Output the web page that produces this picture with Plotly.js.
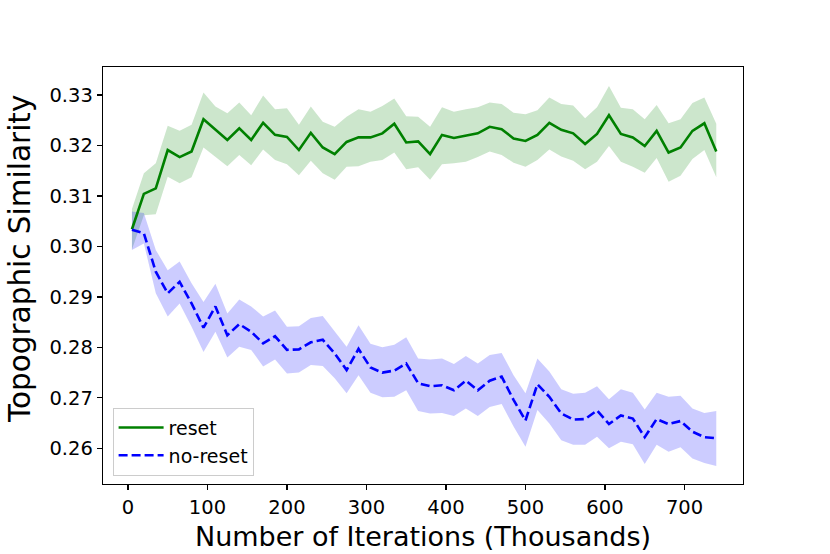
<!DOCTYPE html>
<html>
<head>
<meta charset="utf-8">
<script src="https://cdn.plot.ly/plotly-3.0.1.min.js"></script>
<style>html,body{margin:0;padding:0;background:#fff;}#chart{width:830px;height:554px;}</style>
</head>
<body>
<div id="chart"></div>
<script>
// iterations (thousands)
const iterations = [5,20,35,50,65,80,95,110,125,140,155,170,185,200,215,230,245,260,275,290,305,320,335,350,365,380,395,410,425,440,455,470,485,500,515,530,545,560,575,590,605,620,635,650,665,680,695,710,725,740];

const resetMean = [0.3034,0.3104,0.3115,0.3191,0.3177,0.3188,0.3252,0.3231,0.3211,0.3234,
  0.3211,0.3245,0.3221,0.3217,0.3191,0.3225,0.3196,0.3183,0.3207,0.3216,
  0.3216,0.3224,0.3243,0.3206,0.3208,0.3183,0.3221,0.3215,0.3220,0.3224,
  0.3237,0.3232,0.3214,0.3209,0.3221,0.3245,0.3231,0.3224,0.3203,0.3223,
  0.3260,0.3223,0.3216,0.3199,0.3229,0.3186,0.3196,0.3229,0.3244,0.3188];
const resetUpper = [0.3074,0.3145,0.3165,0.3239,0.3229,0.3241,0.3305,0.3277,0.3264,0.3285,
  0.3260,0.3299,0.3272,0.3274,0.3241,0.3277,0.3247,0.3237,0.3257,0.3272,
  0.3267,0.3278,0.3293,0.3258,0.3257,0.3237,0.3276,0.3267,0.3272,0.3276,
  0.3285,0.3282,0.3265,0.3262,0.3270,0.3295,0.3282,0.3279,0.3254,0.3276,
  0.3318,0.3275,0.3272,0.3252,0.3280,0.3244,0.3252,0.3284,0.3295,0.3243];
const resetLower = [0.2994,0.3062,0.3064,0.3138,0.3125,0.3137,0.3196,0.3178,0.3159,0.3181,
  0.3161,0.3192,0.3171,0.3163,0.3141,0.3170,0.3145,0.3132,0.3158,0.3159,
  0.3168,0.3171,0.3186,0.3153,0.3157,0.3132,0.3163,0.3165,0.3168,0.3177,
  0.3188,0.3181,0.3166,0.3158,0.3171,0.3192,0.3178,0.3170,0.3153,0.3168,
  0.3199,0.3168,0.3158,0.3146,0.3175,0.3128,0.3140,0.3173,0.3191,0.3137];

const noResetMean = [0.3033,0.3026,0.2950,0.2907,0.2930,0.2887,0.2839,0.2881,0.2824,0.2846,
  0.2831,0.2808,0.2822,0.2795,0.2796,0.2810,0.2815,0.2788,0.2755,0.2797,
  0.2760,0.2750,0.2754,0.2768,0.2729,0.2723,0.2725,0.2715,0.2734,0.2715,
  0.2734,0.2742,0.2696,0.2655,0.2727,0.2702,0.2669,0.2657,0.2658,0.2675,
  0.2648,0.2665,0.2659,0.2622,0.2658,0.2648,0.2654,0.2633,0.2622,0.2620];
const noResetUpper = [0.3069,0.3066,0.2993,0.2953,0.2970,0.2927,0.2890,0.2926,0.2867,0.2895,
  0.2881,0.2861,0.2873,0.2841,0.2842,0.2858,0.2862,0.2831,0.2801,0.2844,
  0.2807,0.2800,0.2805,0.2820,0.2778,0.2776,0.2778,0.2767,0.2783,0.2768,
  0.2785,0.2789,0.2745,0.2709,0.2778,0.2752,0.2717,0.2708,0.2710,0.2723,
  0.2697,0.2717,0.2710,0.2677,0.2710,0.2702,0.2704,0.2679,0.2670,0.2674];
const noResetLower = [0.2993,0.3006,0.2907,0.2861,0.2887,0.2841,0.2791,0.2831,0.2780,0.2801,
  0.2795,0.2762,0.2776,0.2748,0.2750,0.2765,0.2763,0.2739,0.2709,0.2745,
  0.2710,0.2701,0.2702,0.2715,0.2674,0.2669,0.2670,0.2664,0.2679,0.2664,
  0.2682,0.2688,0.2643,0.2603,0.2676,0.2649,0.2616,0.2607,0.2607,0.2623,
  0.2600,0.2613,0.2608,0.2569,0.2607,0.2593,0.2602,0.2580,0.2571,0.2565];

const xTicks = [0,100,200,300,400,500,600,700];
const yTicks = [0.26,0.27,0.28,0.29,0.30,0.31,0.32,0.33];
const seriesNames = ['reset','no-reset'];

const font = 'DejaVu Sans, sans-serif';
const traces = [
  {x: iterations, y: resetUpper, mode:'lines', line:{width:0, color:'rgba(0,128,0,0)'}, showlegend:false, hoverinfo:'skip'},
  {x: iterations, y: resetLower, mode:'lines', line:{width:0, color:'rgba(0,128,0,0)'}, fill:'tonexty', fillcolor:'rgba(0,128,0,0.2)', showlegend:false, hoverinfo:'skip'},
  {x: iterations, y: noResetUpper, mode:'lines', line:{width:0, color:'rgba(0,0,255,0)'}, showlegend:false, hoverinfo:'skip'},
  {x: iterations, y: noResetLower, mode:'lines', line:{width:0, color:'rgba(0,0,255,0)'}, fill:'tonexty', fillcolor:'rgba(0,0,255,0.2)', showlegend:false, hoverinfo:'skip'},
  {x: iterations, y: resetMean, mode:'lines', name: seriesNames[0], line:{color:'#008000', width:2.6}},
  {x: iterations, y: noResetMean, mode:'lines', name: seriesNames[1], line:{color:'#0000ff', width:2.6, dash:'9px,4px'}}
];

const layout = {
  width: 830, height: 554,
  margin: {l:103, r:87, t:67, b:70},
  paper_bgcolor:'#fff', plot_bgcolor:'#fff',
  font: {family: font, color:'#000', size:18},
  showlegend: true,
  legend: {x:0.015, y:0.02, xanchor:'left', yanchor:'bottom', traceorder:'normal', itemwidth:45,
    bgcolor:'rgba(255,255,255,0.8)', bordercolor:'#cccccc', borderwidth:1,
    font:{family:font, size:19, color:'#000'}, tracegroupgap:0},
  xaxis: {
    range:[-31.4, 773.6], tickvals: xTicks, ticktext: xTicks.map(String),
    ticks:'outside', ticklen:5, tickwidth:1.3, tickcolor:'#000',
    showline:true, mirror:true, linecolor:'#000', linewidth:1.3,
    showgrid:false, zeroline:false,
    tickfont:{family:font, size:19.5, color:'#000'},
    title:{text:'Number of Iterations (Thousands)', font:{family:font, size:27, color:'#000'}, standoff:9}
  },
  yaxis: {
    range:[0.25293, 0.33555], tickvals: yTicks, ticktext: yTicks.map(v=>v.toFixed(2)),
    ticks:'outside', ticklen:5, tickwidth:1.3, tickcolor:'#000',
    showline:true, mirror:true, linecolor:'#000', linewidth:1.3,
    showgrid:false, zeroline:false,
    tickfont:{family:font, size:19.5, color:'#000'}
  },
  annotations: [{
    text:'Topographic Similarity', textangle:-90, showarrow:false,
    xref:'paper', yref:'paper', x:-0.1295, y:0.5396, xanchor:'center', yanchor:'middle',
    font:{family:font, size:29.5, color:'#000'}
  }]
};

Plotly.newPlot('chart', traces, layout, {staticPlot:true, displayModeBar:false});
</script>
</body>
</html>
